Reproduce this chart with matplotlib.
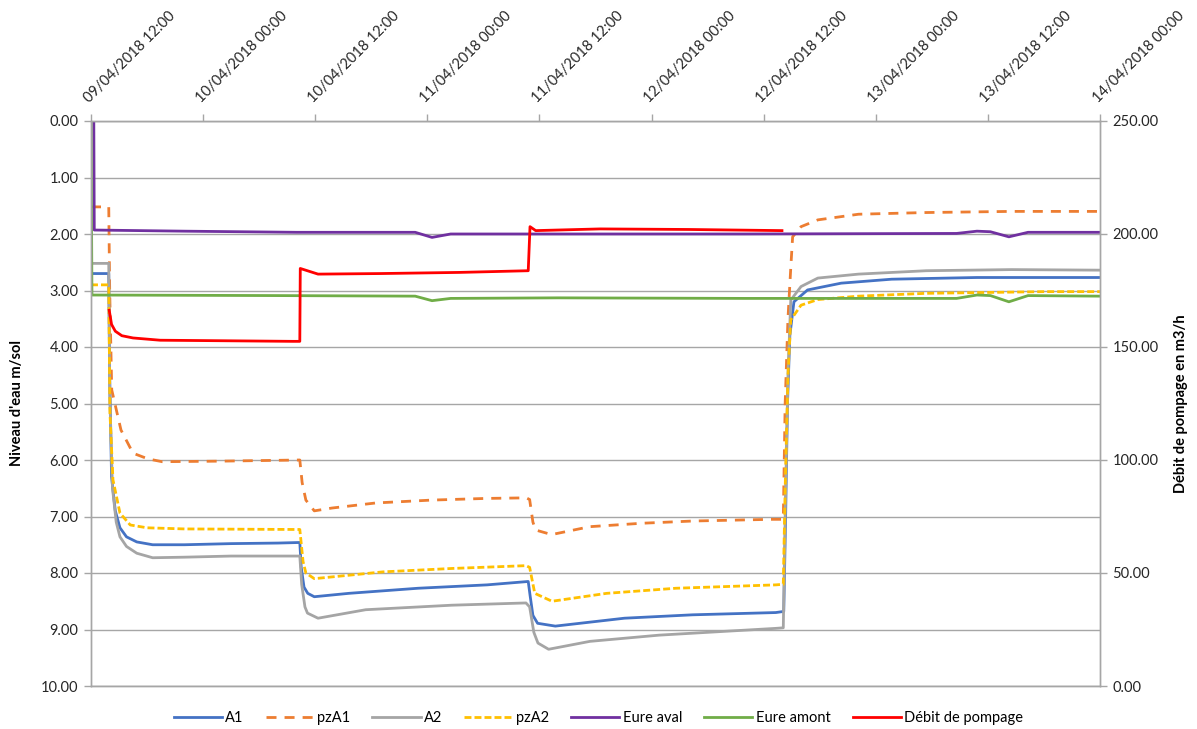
import matplotlib
matplotlib.use("Agg")
import matplotlib.pyplot as plt
import matplotlib.dates as mdates
import matplotlib.ticker as mticker
import pandas as pd

plt.rcParams['font.family'] = ['Lato', 'DejaVu Sans']

t0 = pd.Timestamp("2018-04-09 12:00")

# temps en heures depuis le 09/04/2018 12:00, niveaux en m/sol
a1_h = [0, 1.9, 2.0, 2.2, 2.6, 3.1, 3.8, 4.9, 6.6, 10, 15, 20, 22.35, 22.5, 22.8, 23.2, 23.9, 27.6,
        35.0, 42.4, 46.8, 47.0, 47.3, 47.8, 49.7, 57.1, 64.4, 73.3, 74.15, 74.35, 74.55, 74.8, 75.24,
        76.7, 80.3, 85.7, 94.8, 108]
a1_v = [2.7, 2.7, 4.5, 6.3, 6.9, 7.2, 7.36, 7.45, 7.5, 7.5, 7.48, 7.47, 7.46, 7.9, 8.25, 8.36, 8.42, 8.36,
        8.27, 8.21, 8.15, 8.4, 8.75, 8.89, 8.94, 8.8, 8.74, 8.7, 8.68, 7.0, 5.0, 3.8, 3.2,
        2.99, 2.87, 2.8, 2.77, 2.77]

pza1_h = [0, 1.9, 2.0, 2.22, 3.21, 4.5, 6.1, 7.6, 14, 22.35, 22.6, 23.0, 23.9, 25.8, 30.5, 36.4, 42.3,
          46.6, 46.95, 47.3, 47.6, 49.3, 53.4, 58.9, 64.4, 72.9, 74.1, 74.3, 74.6, 74.9, 75.1, 76.0,
          77.8, 82.15, 89.4, 98.5, 108]
pza1_v = [1.52, 1.52, 3.0, 4.76, 5.47, 5.88, 5.98, 6.03, 6.02, 6.0, 6.4, 6.71, 6.9, 6.85, 6.76, 6.71, 6.68,
          6.67, 6.7, 7.1, 7.24, 7.32, 7.18, 7.12, 7.08, 7.05, 7.05, 5.0, 3.5, 2.6, 2.05, 1.87,
          1.75, 1.65, 1.62, 1.6, 1.6]

a2_h = [0, 1.9, 2.0, 2.3, 2.7, 3.1, 3.8, 4.9, 6.6, 10, 15, 22.35, 22.55, 22.9, 23.17, 24.3, 29.4, 38.6,
        46.56, 46.95, 47.4, 47.84, 48.98, 53.4, 60.8, 73.3, 74.1, 74.3, 74.6, 74.9, 76.0, 77.8, 82.15,
        89.4, 98.5, 108]
a2_v = [2.52, 2.52, 4.8, 6.5, 7.1, 7.36, 7.53, 7.65, 7.73, 7.72, 7.7, 7.7, 8.2, 8.6, 8.71, 8.8, 8.65, 8.57,
        8.53, 8.6, 9.05, 9.24, 9.35, 9.21, 9.1, 8.98, 8.97, 7.0, 4.5, 3.17, 2.93, 2.78, 2.71,
        2.65, 2.63, 2.64]

pza2_h = [0, 1.9, 2.03, 2.35, 3.1, 4.2, 6.0, 10, 22.35, 22.7, 23.0, 23.9, 31.25, 38.6, 46.56, 46.95,
          47.5, 49.34, 55.2, 62.6, 73.3, 74.1, 74.3, 74.6, 74.9, 76.0, 77.8, 82.15, 89.4, 102.1, 108]
pza2_v = [2.9, 2.9, 5.17, 6.35, 6.94, 7.15, 7.2, 7.22, 7.23, 7.8, 8.0, 8.1, 7.98, 7.92, 7.87, 7.9,
          8.36, 8.5, 8.36, 8.27, 8.21, 8.2, 6.5, 4.5, 3.52, 3.26, 3.16, 3.1, 3.05, 3.02, 3.02]

aval_h = [0.3, 0.35, 10, 22, 34.7, 36.5, 38.5, 50, 70, 92.65, 94.83, 96.27, 98.25, 100.3, 108]
aval_v = [0.0, 1.93, 1.95, 1.97, 1.97, 2.06, 2.0, 2.0, 2.0, 1.99, 1.95, 1.96, 2.05, 1.97, 1.97]

amont_h = [0, 0.1, 20, 34.7, 36.5, 38.5, 50, 70, 92.65, 94.83, 96.27, 98.25, 100.3, 108]
amont_v = [0.0, 3.08, 3.09, 3.1, 3.18, 3.14, 3.13, 3.14, 3.14, 3.08, 3.09, 3.2, 3.09, 3.1]

# debit de pompage (m3/h)
debit_h = [1.95, 2.2, 2.6, 3.3, 4.5, 7.4, 14.6, 21.6, 22.35, 22.4, 24.3, 31, 39.4, 46.8, 46.99,
           47.6, 54.5, 64, 73.96]
debit_v = [166.25, 160, 157, 155, 154, 153, 152.75, 152.5, 152.5, 184.75, 182.25, 182.5, 183, 183.75,
           203.25, 201.5, 202.25, 202, 201.5]


def to_time(hours):
    return t0 + pd.to_timedelta(hours, unit="h")


fig = plt.figure(figsize=(11.97, 7.29), dpi=100)
ax = fig.add_axes([91 / 1197, 1 - 686 / 729, (1100 - 91) / 1197, (686 - 121) / 729])
ax2 = ax.twinx()

lw = 2.0
ax.plot(to_time(a1_h), a1_v, color='#4472C4', lw=lw, label='A1')
ax.plot(to_time(pza1_h), pza1_v, color='#ED7D31', lw=lw, dashes=(3.6, 2.9), label='pzA1')
ax.plot(to_time(a2_h), a2_v, color='#A5A5A5', lw=lw, label='A2')
ax.plot(to_time(pza2_h), pza2_v, color='#FFC000', lw=lw, dashes=(2.5, 1.1), label='pzA2')
ax.plot(to_time(aval_h), aval_v, color='#7030A0', lw=lw, label='Eure aval')
ax.plot(to_time(amont_h), amont_v, color='#70AD47', lw=lw, label='Eure amont')
ax2.plot(to_time(debit_h), debit_v, color='#FF0000', lw=lw, label='Débit de pompage')

grey = '#A6A6A6'
ax.set_xlim(t0, t0 + pd.Timedelta(hours=108))
ax.set_ylim(10, 0)
ax2.set_ylim(0, 250)

ax.xaxis.tick_top()
ax.xaxis.set_major_locator(mdates.HourLocator(byhour=[0, 12]))
ax.xaxis.set_major_formatter(mdates.DateFormatter('%d/%m/%Y %H:%M'))
for lab in ax.get_xticklabels():
    lab.set_rotation(45)
    lab.set_ha('left')
    lab.set_va('bottom')
    lab.set_rotation_mode('anchor')

ax.yaxis.set_major_locator(mticker.MultipleLocator(1))
ax.yaxis.set_major_formatter(mticker.FormatStrFormatter('%.2f'))
ax2.yaxis.set_major_locator(mticker.MultipleLocator(50))
ax2.yaxis.set_major_formatter(mticker.FormatStrFormatter('%.2f'))

ax.tick_params(axis='x', colors=grey, labelcolor='#262626', labelsize=10.5, length=5, width=1, pad=6)
ax.tick_params(axis='y', colors=grey, labelcolor='#262626', labelsize=10.5, length=5, width=1, pad=4)
ax2.tick_params(axis='y', colors=grey, labelcolor='#262626', labelsize=10.5, length=5, width=1, pad=4)

ax.yaxis.grid(True, color=grey, lw=1)
ax.set_axisbelow(True)
for a in (ax, ax2):
    for s in a.spines.values():
        s.set_color(grey)
        s.set_linewidth(1)

ax.set_ylabel("Niveau d'eau m/sol", fontsize=10.5, fontweight='bold', labelpad=12)
ax2.set_ylabel("Débit de pompage en m3/h", fontsize=10.5, fontweight='bold', labelpad=11)

handles = ax.get_lines() + ax2.get_lines()
fig.legend(handles, [h.get_label() for h in handles], loc='center', bbox_to_anchor=(0.5, 0.015),
           ncol=7, frameon=False, fontsize=10.5, handlelength=3.3, handletextpad=0.25,
           columnspacing=1.5)

fig.savefig('out.png', dpi=100)
